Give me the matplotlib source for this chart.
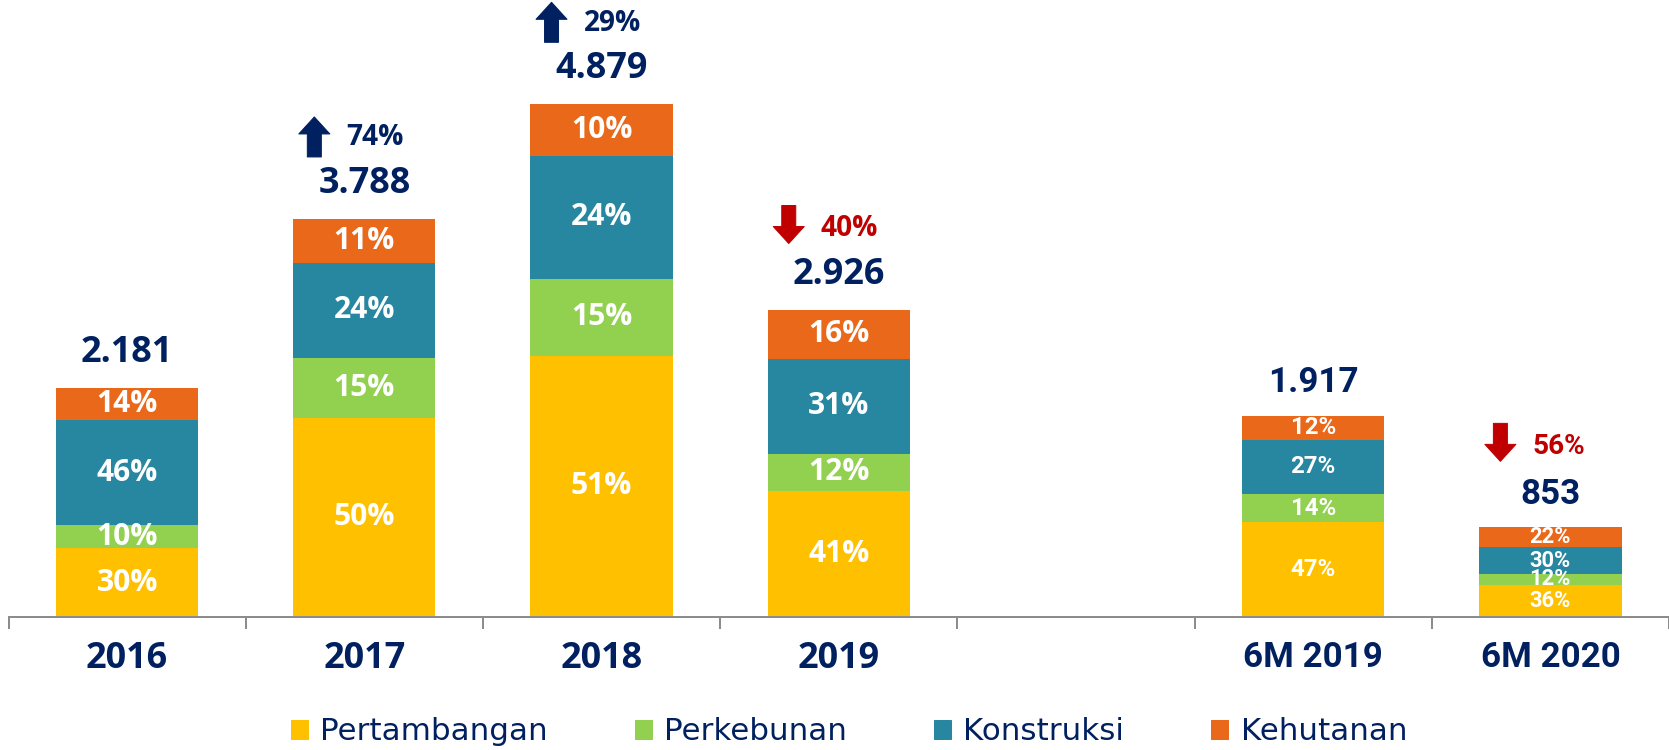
import numpy as np
import matplotlib.pyplot as plt
from matplotlib.patches import Patch
from matplotlib.transforms import offset_copy

# data
categories = ['2016', '2017', '2018', '2019', '', '6M 2019', '6M 2020']
totals = [2181, 3788, 4879, 2926, 0, 1917, 853]
pertambangan = [30, 50, 51, 41, 0, 47, 36]   # % share
perkebunan = [10, 15, 15, 12, 0, 14, 12]
konstruksi = [46, 24, 24, 31, 0, 27, 30]
kehutanan = [14, 11, 10, 16, 0, 12, 22]
growth = [None, 74, 29, -40, None, None, -56]  # % change
series_names = ['Pertambangan', 'Perkebunan', 'Konstruksi', 'Kehutanan']

colors = ['#FFC000', '#92D050', '#2786A0', '#E9681A']
navy = '#002060'
red = '#C00000'
NARROW = ['Open Sans', 'DejaVu Sans']
WIDE = ['Roboto', 'DejaVu Sans']

W, H = 1669, 750
fig = plt.figure(figsize=(W / 72, H / 72), dpi=72)
ax = fig.add_axes([8.5 / W, 133 / H, 1 - 8.5 / W, 617 / H])

x = np.arange(len(categories))
totals = np.array(totals, dtype=float)
shares = [pertambangan, perkebunan, konstruksi, kehutanan]
bottom = np.zeros(len(categories))
for name, sh, c in zip(series_names, shares, colors):
    seg = totals * np.array(sh) / 100.0
    ax.bar(x, seg, bottom=bottom, width=0.6, color=c, label=name)
    for i in range(len(categories)):
        if seg[i] <= 0:
            continue
        wide = categories[i].startswith('6M')
        small = totals[i] < 1000
        ax.text(x[i], bottom[i] + seg[i] / 2, f'{sh[i]}%', ha='center', va='center',
                color='white', fontweight='bold',
                family=WIDE if wide else NARROW,
                fontsize=(22 if small else 24) if wide else 30)
    bottom += seg

# totals and growth arrows
for i in range(len(categories)):
    if totals[i] <= 0:
        continue
    wide = categories[i].startswith('6M')
    label = f'{int(totals[i]):,}'.replace(',', '.')
    ax.annotate(label, (x[i], totals[i]), xytext=(0, 33 if wide else 35), textcoords='offset points',
                ha='center', va='center', color=navy, fontweight='bold',
                family=WIDE if wide else NARROW, fontsize=35 if wide else 36)
    g = growth[i]
    if g is None:
        continue
    col = navy if g > 0 else red
    y0, y1 = (62, 102) if g > 0 else (104, 66)
    tail = offset_copy(ax.transData, fig=fig, x=-50, y=y0, units='points')
    head = offset_copy(ax.transData, fig=fig, x=-50, y=y1, units='points')
    ax.annotate('', xy=(x[i], totals[i]), xycoords=head,
                xytext=(x[i], totals[i]), textcoords=tail,
                arrowprops=dict(arrowstyle='simple,head_length=0.85,head_width=1.55,tail_width=0.7',
                                color=col, shrinkA=0, shrinkB=0, mutation_scale=20))
    ax.annotate(f'{abs(g)}%', (x[i], totals[i]), xytext=(-18, 81), textcoords='offset points',
                ha='left', va='center', color=col, fontweight='bold',
                family=WIDE if wide else NARROW, fontsize=28)

ax.set_xlim(-0.5, len(categories) - 0.5)
ax.set_ylim(0, 4879 * 617 / 512.7)
for s in ['top', 'right', 'left']:
    ax.spines[s].set_visible(False)
ax.spines['bottom'].set_color('#8C8C8C')
ax.spines['bottom'].set_linewidth(2)
ax.set_yticks([])
ax.set_xticks(x)
ax.set_xticklabels(categories)
ax.set_xticks(np.arange(len(categories) + 1) - 0.5, minor=True)
ax.tick_params(axis='x', which='major', length=0, pad=24, colors=navy)
ax.tick_params(axis='x', which='minor', length=12, width=2, color='#8C8C8C')
for lab in ax.get_xticklabels():
    wide = lab.get_text().startswith('6M')
    lab.set_fontfamily(WIDE if wide else NARROW)
    lab.set_fontweight('bold')
    lab.set_fontsize(35 if wide else 36)

handles = [Patch(color=c) for c in colors]
leg = fig.legend(handles, series_names, loc='center', bbox_to_anchor=(849 / W, 18 / H),
                 ncol=4, frameon=False, handlelength=0.55, handleheight=0.55,
                 handletextpad=0.4, columnspacing=2.8, prop={'family': 'DejaVu Sans', 'size': 31})
for t in leg.get_texts():
    t.set_color(navy)

fig.savefig('out.png', dpi=72)
